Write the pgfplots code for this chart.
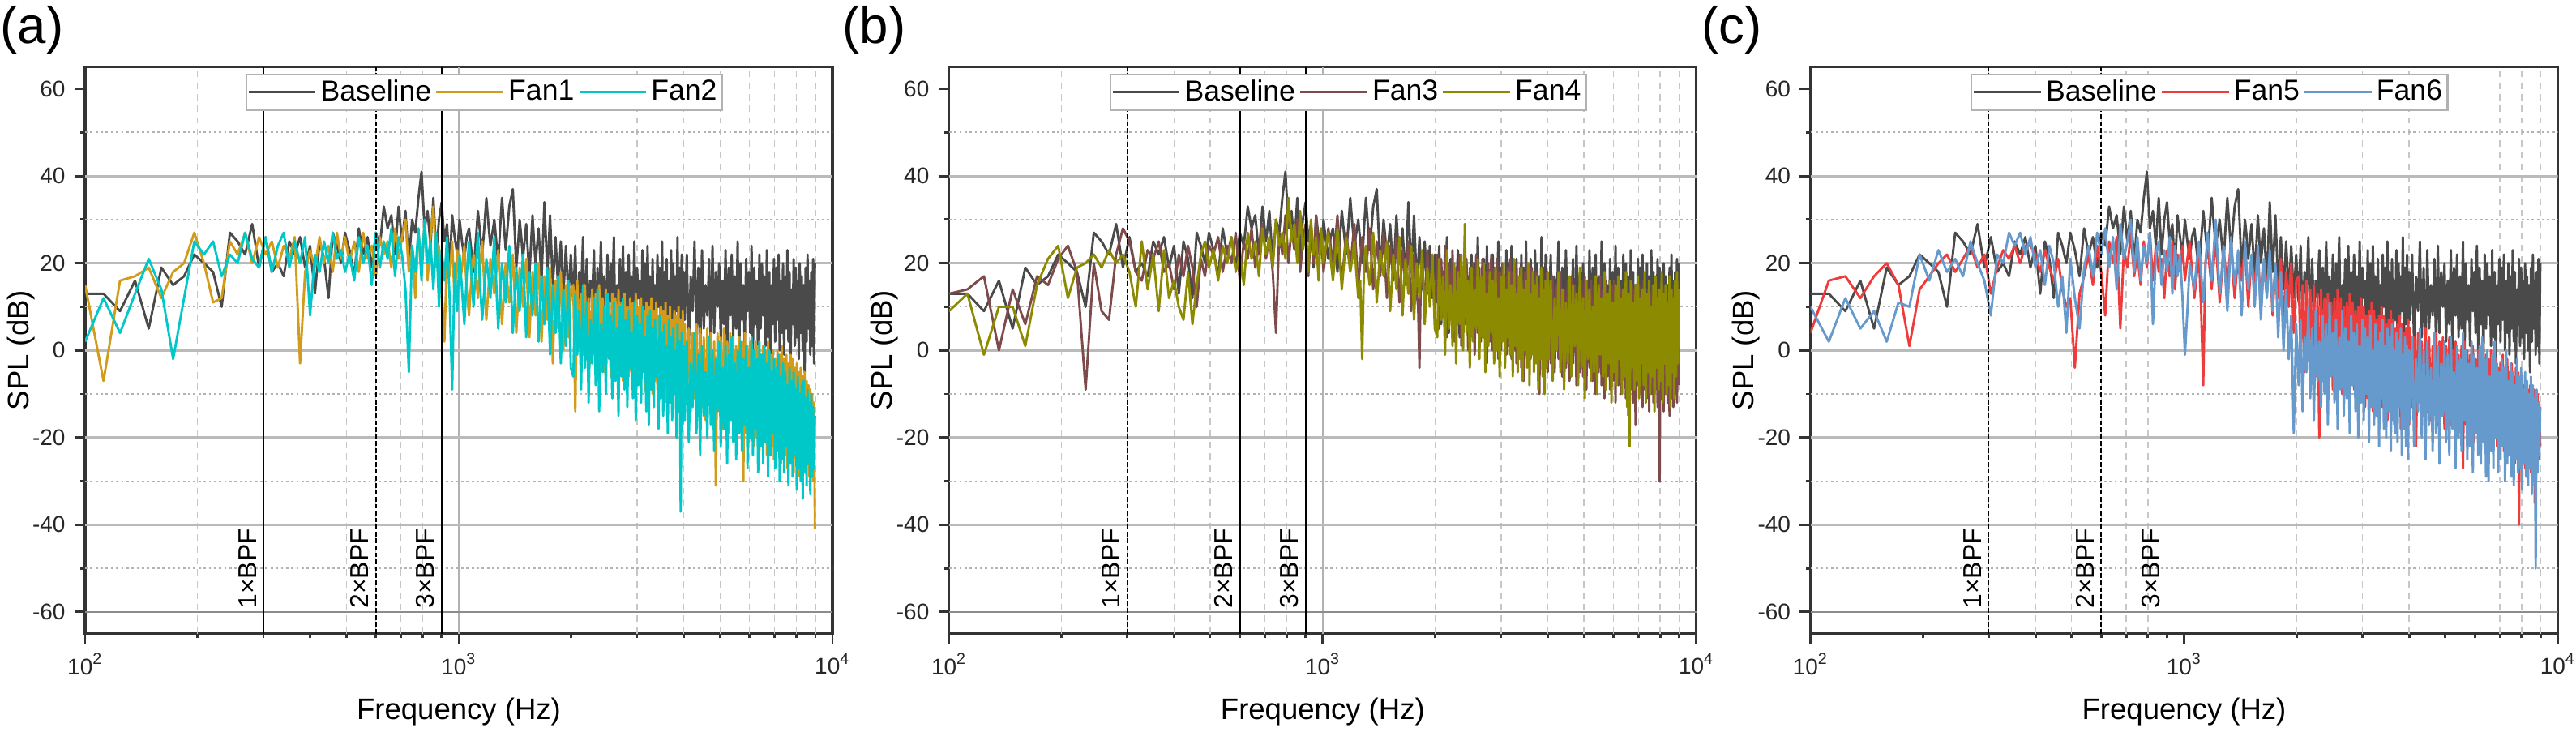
\documentclass[border=0pt]{standalone}
\usepackage{fontspec}
\setmainfont{Liberation Sans}
\usepackage{pgfplots}
\usepackage{pgfplotstable}
\pgfplotsset{compat=1.18}
\definecolor{cBase}{HTML}{4A4A4A}
\definecolor{cF1}{HTML}{D29B1A}
\definecolor{cF2}{HTML}{00C8C8}
\definecolor{cF3}{HTML}{7E4A4C}
\definecolor{cF4}{HTML}{8C8A00}
\definecolor{cF5}{HTML}{EE3B3B}
\definecolor{cF6}{HTML}{6699CC}

\pgfplotstableread{
f B F1 F2 F3 F4 F5 F6
100 13 15 2 13 9 4 10
112 13 -7 12 14 13 16 2
124 9 16 4 17 -1 17 12
136 16 17 13 0 10 12 5
148 5 19 21 14 10 17 9
160 19 12 14 6 1 20 2
172 15 18 -2 17 15 15 11
184 17 20 12 15 21 1 10
196 22 27 25 21 24 14 22
208 20 20 22 24 12 17 16
220 18 11 25 18 19 20 23
232 10 12 17 -9 20 22 18
244 27 25 22 20 22 18 21
256 25 22 20 9 19 21 17
268 22 27 27 7 23 24 25
280 29 20 21 22 20 19 20
292 19 26 19 28 22 22 16
304 26 22 26 25 18 13 8
316 18 25 18 18 10 19 22
328 20 19 24 16 25 23 20
340 17 24 27 23 14 21 27
352 25 21 19 21 22 24 24
364 22 26 25 25 9 20 27
376 26 -3 20 18 23 24 22
388 19 18 26 20 12 24 26
400 24 23 8 14 16 22 19
412 13 19 22 22 10 18 23
424 25 26 18 17 7 23 15
436 21 20 25 24 18 19 24
448 12 24 20 19 6 16 20
460 27 18 27 10 15 21 10
472 24 27 21 21 22 14 17
484 20 21 23 17 25 10 4
496 27 26 18 24 19 12 21
510 23 20 22 22 23 -4 12
525 17 25 16 26 16 13 5
540 28 18 26 18 24 17 19
555 22 27 20 24 20 22 24
570 26 21 24 20 26 15 17
585 19 24 15 27 18 24 27
600 27 17 27 16 22 18 22
615 24 26 19 25 15 8 28
630 33 22 25 21 27 25 19
645 28 25 21 28 21 20 26
660 31 19 28 19 25 26 14
675 22 28 17 24 17 5 29
690 33 21 26 29 28 23 21
705 25 26 22 21 22 19 25
720 32 30 14 26 26 27 30
735 20 18 -5 18 19 17 18
750 30 24 24 4 30 22 26
765 27 12 18 27 24 15 16
780 35 27 28 22 27 25 24
795 41 20 16 31 21 19 20
810 28 29 30 20 35 27 27
825 32 16 20 28 25 16 6
840 24 26 25 23 29 24 22
855 35 33 14 30 20 18 25
870 22 19 27 18 32 21 15
885 30 24 10 25 23 12 23
900 34 14 23 29 27 23 18
915 25 2 16 17 18 17 26
930 29 22 26 27 30 25 13
945 19 17 12 20 22 14 24
960 31 25 -9 31 26 22 17
975 26 11 20 22 16 18 22
990 22 23 9 26 28 24 12
1005 30 15 22 18 20 16 -1
1020 25 19 14 23 24 21 9
1035 21 24 6 28 27 25 20
1050 26 14 17 24 21 18 17
1065 28 8 25 20 16 12 14
1080 23 16 18 25 22 17 20
1095 18 22 10 31 28 22 25
1110 25 18 19 22 21 10 18
1125 32 12 27 16 14 -8 11
1140 27 19 15 21 20 20 19
1155 22 25 7 27 26 24 27
1170 28 15 14 23 22 19 22
1185 35 7 21 19 18 14 16
1200 29 14 17 24 21 20 23
1215 24 21 12 29 25 26 30
1230 27 17 19 22 18 18 21
1245 30 13 26 15 12 11 13
1260 25 18 15 20 16 17 18
1275 20 23 5 26 -2 23 24
1290 28 14 13 22 20 19 16
1305 35 6 20 18 24 15 9
1320 29 13 16 23 19 20 17
1335 23 20 11 28 15 25 26
1350 28 15 18 21 21 18 20
1365 33 11 24 14 27 12 15
1380 35 16 14 20 19 17 19
1395 37 22 4 25 11 22 23
1410 28 13 11 21 17 19 15
1425 19 4 19 17 23 16 8
1440 24 11 14 22 20 20 16
1455 30 19 9 27 17 24 25
1470 26 15 16 19 21 17 19
1485 21 10 22 12 25 10 14
1500 25 16 13 18 17 16 18
1515 29 21 3 24 9 21 22
1530 23 12 11 20 15 18 16
1545 17 3 18 16 22 14 10
1560 24 11 13 21 18 19 17
1575 31 18 8 26 14 23 24
1590 25 14 14 18 20 16 15
1605 20 8 20 11 26 9 7
1620 24 15 11 17 17 15 14
1635 28 20 2 23 8 20 21
1650 22 11 9 19 15 17 16
1665 16 2 17 15 21 13 12
1680 25 9 12 20 17 18 17
1695 34 17 6 25 13 22 23
1710 26 12 13 17 19 15 16
1725 18 7 19 9 24 8 9
1740 24 13 9 15 16 14 15
1755 31 19 -1 22 7 19 20
1770 23 8 7 18 14 16 12
1785 15 -3 15 13 20 12 3
1800 20 7 10 10 16 17 11
1815 26 16 4 -4 12 21 18
1830 20 10 11 16 17 14 9
1845 14 5 17 21 23 6 0
1860 19 12 7 15 15 12 7
1875 25 18 -3 8 6 18 14
1890 19 9 5 16 12 14 6
1905 13 0 14 23 19 10 -2
1920 18 8 8 18 15 16 3
1935 24 15 1 12 10 20 8
1950 18 9 9 16 16 12 -5
1965 12 3 16 20 22 4 -19
1980 17 8 6 14 14 10 -7
1995 22 14 -4 7 5 16 6
2025 11 15 -6 22 3 17 -8
2050 24 -14 13 5 21 -2 7
2075 6 16 -1 21 7 15 -14
2100 18 2 9 8 17 -5 3
2125 13 13 -9 24 -1 16 -5
2150 26 -1 15 3 23 0 10
2175 4 15 -4 20 5 14 -11
2200 21 3 11 9 15 -3 5
2225 9 12 -12 23 1 15 -16
2250 16 -3 7 2 20 -6 9
2275 12 14 -3 19 -3 13 -7
2300 23 1 12 7 18 -20 2
2325 3 13 -8 22 6 14 -13
2350 19 -4 14 1 22 -4 8
2375 8 15 -14 18 0 12 -10
2400 25 0 6 6 29 -8 6
2425 10 12 -5 21 4 13 -17
2450 17 -5 10 0 16 -3 11
2475 2 14 -10 19 -4 11 -6
2500 22 -1 13 5 19 -9 4
2525 7 11 -2 20 2 12 -12
2550 20 -6 8 -1 14 -5 7
2575 11 13 -11 22 5 14 -18
2600 26 -2 11 4 21 -6 3
2625 4 12 -7 19 -2 12 -9
2650 15 -5 5 2 17 -10 9
2675 9 14 -15 21 3 10 -15
2700 21 -3 10 3 20 -7 5
2725 1 11 -6 18 -5 11 -11
2750 24 -7 12 -3 13 -11 2
2775 6 13 -9 20 1 13 -19
2800 18 -4 7 2 18 -8 8
2825 10 10 -13 22 4 11 -8
2850 22 -6 9 0 16 -9 4
2875 3 12 -4 19 -3 9 -14
2900 17 -5 4 1 19 -12 6
2925 8 11 -11 21 0 10 -20
2950 25 -8 11 -2 12 -10 1
2975 5 13 -16 18 -6 12 -12
3000 19 -6 8 0 17 -8 7
3025 12 10 -8 20 2 10 -16
3050 16 -7 6 3 20 -13 5
3075 2 12 -12 17 -4 8 -10
3100 23 -5 10 -1 14 -11 3
3125 7 9 -5 19 3 9 -21
3150 20 -9 3 1 18 -9 8
3175 4 11 -14 21 -1 11 -13
3200 24 -6 8 -2 15 -14 0
3225 9 10 -17 18 -6 9 -17
3250 17 -8 9 0 21 -12 6
3275 0 12 -9 20 1 7 -15
3300 21 -10 5 -3 13 -10 2
3325 6 9 -13 17 -5 8 -22
3350 15 -7 7 2 17 -15 4
3375 3 11 -6 19 -2 10 -11
3400 22 -9 2 -4 19 -13 7
3425 10 8 -18 16 -7 8 -18
3450 19 -11 8 -7 14 -11 1
3475 1 10 -11 18 0 6 -20
3500 25 -8 4 -1 16 -16 5
3525 5 9 -15 20 -4 7 -14
3550 18 -10 6 1 20 -14 3
3575 8 11 -8 17 -8 9 -23
3600 21 -12 1 -2 13 -12 6
3625 2 8 -19 19 -1 7 -16
3650 16 -9 7 0 18 -17 0
3675 7 10 -12 16 -5 5 -19
3700 23 -11 3 -3 15 -15 4
3725 -1 7 -16 18 -3 6 -21
3750 20 -13 5 -1 17 -13 2
3775 4 9 -10 15 -9 8 -13
3800 17 -10 0 -10 12 -18 5
3825 9 8 -20 17 -2 6 -24
3850 26 -12 6 0 19 -16 -1
3875 2 10 -14 19 -6 4 -18
3900 19 -14 2 -4 14 -14 3
3925 6 7 -37 16 -10 5 -22
3950 22 -11 4 -2 16 -19 1
3975 3 9 -17 18 -4 7 -25
4000 18 -13 1 -5 18 -17 0
4025 7 6 -16 16 -2 5 -16
4075 22 -12 2 -3 16 -13 3
4125 1 5 -21 17 -7 3 -22
4175 17 -14 -3 -5 12 -22 -2
4225 9 4 -13 15 0 4 -14
4275 25 -11 4 -2 18 -12 5
4325 3 6 -19 18 -5 2 -20
4375 19 -15 -1 -6 14 -15 0
4425 -2 5 -24 14 -9 5 -25
4475 23 -13 1 -4 11 -14 2
4525 5 3 -15 16 -3 3 -17
4575 15 -16 -5 -7 17 -16 -4
4625 8 5 -20 17 -6 1 -23
4675 21 -12 3 -3 15 -13 4
4725 0 4 -17 15 1 4 -19
4775 24 -17 0 -8 13 -17 1
4825 4 2 -23 13 -8 2 -26
4875 18 -31 -2 -5 19 -15 -3
4925 10 4 -14 16 -4 3 -15
4975 20 -14 2 -6 12 -18 2
5025 2 3 -22 17 -11 1 -21
5075 16 -18 -4 -9 16 -14 -1
5125 6 5 -18 14 -2 3 -24
5175 23 -15 1 -4 14 -17 3
5225 -1 2 -26 16 -7 0 -18
5275 19 -19 -1 -7 10 -16 -5
5325 8 4 -16 15 -5 2 -27
5375 22 -16 3 -10 17 -19 1
5425 3 3 -21 13 -10 -1 -20
5475 17 -20 -3 -5 15 -15 -2
5525 5 1 -25 17 -1 1 -23
5575 25 -17 0 -8 12 -27 4
5625 -3 3 -19 14 -6 2 -16
5675 20 -18 2 -11 18 -17 0
5725 7 2 -23 16 -9 0 -25
5775 15 -30 -2 -6 13 -20 -3
5825 1 4 -17 12 -3 -1 -22
5875 21 -19 1 -9 16 -18 2
5925 9 1 -27 15 -12 1 -28
5975 18 -21 -4 -7 11 -21 -1
6025 4 2 -20 16 -5 -2 -19
6075 24 -18 3 -12 15 -16 -4
6125 0 0 -24 13 -8 0 -24
6175 19 -22 0 -8 17 -20 1
6225 6 2 -18 15 -2 -1 -26
6275 16 -20 -2 -10 12 -19 3
6325 -2 1 -28 14 -10 -3 -21
6375 22 -23 2 -6 14 -22 -2
6425 5 -1 -22 12 -6 -1 -29
6475 20 -19 -1 -11 18 -18 0
6525 8 1 -26 16 -13 -2 -30
6575 17 -21 1 -15 13 -21 -6
6625 1 0 -21 13 -22 0 -23
6675 23 -24 -3 -9 16 -23 -1
6725 3 2 -29 15 -4 -3 -27
6775 18 -20 0 -12 11 -19 2
6825 -4 -1 -24 14 -9 -2 -20
6875 15 -22 -5 -17 15 -22 -3
6925 6 0 -19 12 -7 -4 -28
6975 21 -25 -2 -8 17 -24 -5
7025 2 -2 -27 15 -11 -3 -25
7075 19 -21 -4 -10 12 -20 -2
7125 7 0 -23 13 -3 -1 -22
7175 22 -23 -1 -13 14 -23 -4
7225 0 -1 -30 16 -8 -4 -30
7275 16 -26 -6 -9 18 -25 0
7325 4 1 -25 12 -12 -2 -26
7375 20 -22 -3 -11 13 -21 -7
7425 -1 -2 -28 14 -5 -5 -24
7475 17 -24 -5 -14 16 -24 -3
7525 5 -1 -22 13 -10 -3 -29
7575 23 -27 -8 -10 10 -22 -5
7625 2 -3 -31 15 -6 -6 -31
7675 18 -23 -4 -12 15 -26 -8
7725 -3 -1 -26 11 -14 -4 -25
7775 14 -25 -7 -9 17 -23 -2
7825 6 -2 -29 14 -4 -5 -28
7875 21 -28 -5 -13 12 -40 -6
7925 1 -4 -24 12 -9 -7 -27
7975 19 -24 -9 -30 14 -25 -4
8025 3 -3 -32 13 -7 -6 -32
8075 16 -26 -6 -11 18 -24 -9
8125 -2 -5 -27 15 -12 -8 -26
8175 20 -29 -10 -14 13 -27 -5
8225 4 -4 -30 12 -3 -7 -29
8275 17 -25 -8 -10 15 -22 -7
8325 0 -6 -34 14 -10 -9 -31
8375 15 -27 -7 -12 11 -26 -10
8425 -5 -5 -28 13 -8 -8 -27
8475 19 -28 -11 -15 17 -28 -6
8525 2 -7 -31 11 -13 -10 -33
8575 22 -26 -9 -11 14 -24 -8
8625 5 -8 -26 14 -5 -9 -30
8675 16 -29 -12 -13 12 -35 -11
8725 -1 -9 -33 15 -11 -11 -50
8775 18 -27 -10 -10 16 -27 -9
8825 1 -10 -29 12 -6 -10 -28
8875 21 -30 -13 -12 18 -25 -12
8925 -3 -12 -27 13 -3 -12 -24
8975 20 -41 -15 -8 14 -22 -13
}\spldata

\tikzset{
  bpflab/.style={rotate=90, anchor=south west, inner xsep=1.2pt, inner ysep=2.6pt,
                 font=\fontsize{10}{12}\selectfont, text=black},
  bpfdash/.style={dash pattern=on 1.8pt off 0.9pt},
  bpfsolid/.style={},
}
\newcommand{\bpflines}[3]{%
  \draw[black, line width=0.6pt, #1] (axis cs:300,-65) -- (axis cs:300,65);
  \draw[black, line width=0.6pt, #2] (axis cs:600,-65) -- (axis cs:600,65);
  \draw[black, line width=0.6pt, #3] (axis cs:900,-65) -- (axis cs:900,65);
  \node[bpflab] at (axis cs:300,-60) {1×BPF};
  \node[bpflab] at (axis cs:600,-60) {2×BPF};
  \node[bpflab] at (axis cs:900,-60) {3×BPF};
}
\newcommand{\gridlines}{%
  \pgfplotsinvokeforeach{200,300,400,500,600,700,800,900,2000,3000,4000,5000,6000,7000,8000,9000}{%
    \draw[black!22, line width=0.45pt, dash pattern=on 2.5pt off 2pt] (axis cs:##1,-65) -- (axis cs:##1,65);}
  \draw[black!30, line width=0.5pt] (axis cs:1000,-65) -- (axis cs:1000,65);
  \pgfplotsinvokeforeach{-50,-30,-10,10,30,50}{%
    \draw[black!30, line width=0.6pt, dash pattern=on 0.9pt off 1.1pt] (axis cs:100,##1) -- (axis cs:10000,##1);}
  \pgfplotsinvokeforeach{-40,-20,0,20,40}{%
    \draw[black!27, line width=0.9pt] (axis cs:100,##1) -- (axis cs:10000,##1);}
  \draw[black!45, line width=0.8pt] (axis cs:100,-60) -- (axis cs:10000,-60);
}

\pgfplotsset{
  legend image code/.code={\draw[#1, line width=0.9pt] (0pt,0pt) -- (26pt,0pt);},
  every axis plot/.append style={line width=0.9pt, line join=round},
  every axis/.append style={
    scale only axis, width=290.12pt, height=219.95pt,
    ymin=-65, ymax=65,
    ytick={-60,-40,-20,0,20,40,60},
    minor ytick={-50,-30,-10,10,30,50},
    tick align=outside, tick pos=left,
    major tick length=4.2pt, minor tick length=1.8pt,
    tick label style={font=\fontsize{8.8}{10}\selectfont, text=black!85},
    xlabel={Frequency (Hz)}, ylabel={SPL (dB)},
    legend columns=3,
  },
}

\begin{document}
\begin{tikzpicture}
\path[use as bounding box] (0pt,0pt) rectangle (1000pt,283.83pt);

\node[anchor=base west, inner sep=0pt, font=\fontsize{20}{24}\selectfont] at (0pt,267.15pt) {(a)};
\node[anchor=base west, inner sep=0pt, font=\fontsize{20}{24}\selectfont] at (326.9pt,267.15pt) {(b)};
\node[anchor=base west, inner sep=0pt, font=\fontsize{20}{24}\selectfont] at (660.5pt,267.15pt) {(c)};

\begin{axis}[at={(33.04pt,37.85pt)}, anchor=south west,
  xmode=log, xmin=100, xmax=10000,
  xtick={100,1000,10000},
  xticklabels={10\textsuperscript{2},10\textsuperscript{3},10\textsuperscript{4}},
  minor xtick={200,300,400,500,600,700,800,900,2000,3000,4000,5000,6000,7000,8000,9000},
  tick style={black!80, line width=0.9pt},
  axis line style={black!80, line width=1pt},
  /pgf/number format/assume math mode=true,
  xlabel style={at={(axis description cs:0.5,-0.152)}, anchor=base, font=\fontsize{11.5}{13}\selectfont},
  ylabel style={at={(axis description cs:-0.067,0.5)}, anchor=south, inner sep=0pt, font=\fontsize{11.5}{13}\selectfont},
  legend style={at={(axis description cs:0.534,0.9886)}, anchor=north,
      draw=black!30, line width=0.7pt, fill=white, inner sep=0.5pt,
      font=\fontsize{11.2}{13}\selectfont,
      nodes={inner xsep=1.5pt, inner ysep=1.6pt}},
]
\gridlines
\addplot[cBase, no markers] table[x=f,y=B]{\spldata};
\addlegendentry{Baseline}
\addplot[cF1, no markers] table[x=f,y=F1]{\spldata};
\addlegendentry{Fan1}
\addplot[cF2, no markers] table[x=f,y=F2]{\spldata};
\addlegendentry{Fan2}
\bpflines{bpfsolid}{bpfdash}{bpfsolid}
\end{axis}

\begin{axis}[at={(368.41pt,37.85pt)}, anchor=south west,
  xmode=log, xmin=100, xmax=10000,
  xtick={100,1000,10000},
  xticklabels={10\textsuperscript{2},10\textsuperscript{3},10\textsuperscript{4}},
  minor xtick={200,300,400,500,600,700,800,900,2000,3000,4000,5000,6000,7000,8000,9000},
  tick style={black!80, line width=0.9pt},
  axis line style={black!80, line width=1pt},
  /pgf/number format/assume math mode=true,
  xlabel style={at={(axis description cs:0.5,-0.152)}, anchor=base, font=\fontsize{11.5}{13}\selectfont},
  ylabel style={at={(axis description cs:-0.067,0.5)}, anchor=south, inner sep=0pt, font=\fontsize{11.5}{13}\selectfont},
  legend style={at={(axis description cs:0.534,0.9886)}, anchor=north,
      draw=black!30, line width=0.7pt, fill=white, inner sep=0.5pt,
      font=\fontsize{11.2}{13}\selectfont,
      nodes={inner xsep=1.5pt, inner ysep=1.6pt}},
]
\gridlines
\addplot[cBase, no markers] table[x=f,y=B]{\spldata};
\addlegendentry{Baseline}
\addplot[cF3, no markers] table[x=f,y=F3]{\spldata};
\addlegendentry{Fan3}
\addplot[cF4, no markers] table[x=f,y=F4]{\spldata};
\addlegendentry{Fan4}
\bpflines{bpfdash}{bpfsolid}{bpfsolid}
\end{axis}

\begin{axis}[at={(702.80pt,37.85pt)}, anchor=south west,
  xmode=log, xmin=100, xmax=10000,
  xtick={100,1000,10000},
  xticklabels={10\textsuperscript{2},10\textsuperscript{3},10\textsuperscript{4}},
  minor xtick={200,300,400,500,600,700,800,900,2000,3000,4000,5000,6000,7000,8000,9000},
  tick style={black!80, line width=0.9pt},
  axis line style={black!80, line width=1pt},
  /pgf/number format/assume math mode=true,
  xlabel style={at={(axis description cs:0.5,-0.152)}, anchor=base, font=\fontsize{11.5}{13}\selectfont},
  ylabel style={at={(axis description cs:-0.067,0.5)}, anchor=south, inner sep=0pt, font=\fontsize{11.5}{13}\selectfont},
  legend style={at={(axis description cs:0.534,0.9886)}, anchor=north,
      draw=black!30, line width=0.7pt, fill=white, inner sep=0.5pt,
      font=\fontsize{11.2}{13}\selectfont,
      nodes={inner xsep=1.5pt, inner ysep=1.6pt}},
]
\gridlines
\addplot[cBase, no markers] table[x=f,y=B]{\spldata};
\addlegendentry{Baseline}
\addplot[cF5, no markers] table[x=f,y=F5]{\spldata};
\addlegendentry{Fan5}
\addplot[cF6, no markers] table[x=f,y=F6]{\spldata};
\addlegendentry{Fan6}
\bpflines{bpfdash}{bpfdash}{bpfsolid}
\end{axis}
\end{tikzpicture}
\end{document}
